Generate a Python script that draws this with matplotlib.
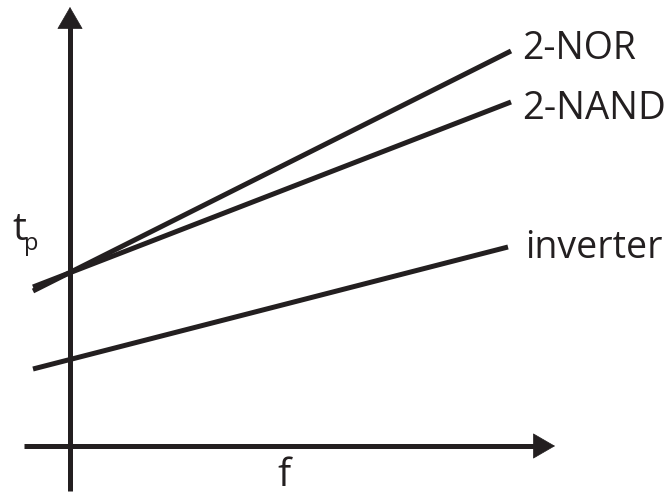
import matplotlib
matplotlib.use('Agg')
import matplotlib.pyplot as plt

# line end points (f, t_p) - origin is where the two axes cross
f_ends = [-0.37, 4.41]
f_ends_inv = [-0.37, 4.38]
tp_nor = [1.55, 3.95]
tp_nand = [1.59, 3.44]
tp_inv = [0.77, 1.99]
labels = ['2-NOR', '2-NAND', 'inverter']

col = '#231f20'
plt.rcParams['font.family'] = ['Open Sans', 'DejaVu Sans']

fig = plt.figure(figsize=(6.72, 4.95), dpi=100)
ax = fig.add_axes([0, 0, 1, 1])
ax.set_xlim(-0.70, 6.02)
ax.set_ylim(-0.49, 4.46)
ax.axis('off')

# axes with arrow heads
ax.plot([0, 0], [-0.45, 4.20], color=col, lw=3.6, solid_capstyle='butt')
ax.plot([-0.46, 4.64], [0, 0], color=col, lw=3.6, solid_capstyle='butt')
head = dict(arrowstyle='-|>,head_length=1.0,head_width=0.58', mutation_scale=15,
            lw=0.5, color=col, shrinkA=0, shrinkB=0)
ax.annotate('', xy=(0, 4.39), xytext=(0, 4.10), arrowprops=head)
ax.annotate('', xy=(4.85, 0), xytext=(4.55, 0), arrowprops=head)

for fx, tp in [(f_ends, tp_nor), (f_ends, tp_nand), (f_ends_inv, tp_inv)]:
    ax.plot(fx, tp, color=col, lw=3.6, solid_capstyle='butt')

ax.text(4.52, 3.87, labels[0], fontsize=27, color=col, va='baseline')
ax.text(4.52, 3.27, labels[1], fontsize=27.5, color=col, va='baseline')
ax.text(4.55, 1.88, labels[2], fontsize=27, color=col, va='baseline')

ax.text(2.14, -0.485, 'f', fontsize=28, color=col, ha='center', va='bottom')
ax.text(-0.58, 2.06, 't', fontsize=28, color=col, va='baseline')
ax.text(-0.455, 1.96, 'p', fontsize=17, color=col, va='baseline')

fig.savefig('out.png', dpi=100)
